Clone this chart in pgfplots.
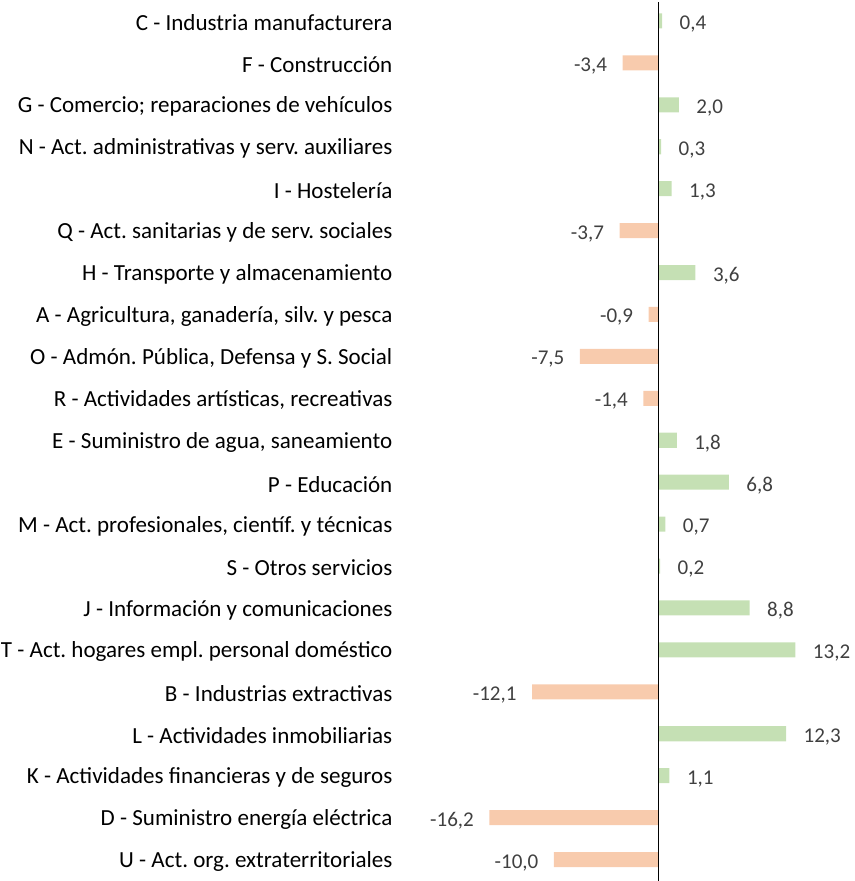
\documentclass[border=0pt]{standalone}
\usepackage{pgfplots}
\pgfplotsset{compat=1.18}
\usepackage{fontspec}
\setmainfont{Carlito}
\frenchspacing
\definecolor{barpos}{HTML}{C5E0B4}
\definecolor{barneg}{HTML}{F8CBAD}
\definecolor{lbl}{HTML}{404040}
\begin{document}
\begin{tikzpicture}
\begin{axis}[
    xbar,
    scale only axis,
    width=452pt,
    height=879pt,
    xmin=-25.0, xmax=18.5,
    ymin=-0.5, ymax=20.5,
    y dir=reverse,
    bar width=15pt,
    bar shift=0pt,
    axis line style={draw=none},
    major tick style={draw=none},
    xtick=\empty,
    ytick={0,...,20},
    yticklabels={
        C - Industria manufacturera,
        F - Construcción,
        G - Comercio; reparaciones de vehículos,
        N - Act. administrativas y serv. auxiliares,
        I - Hostelería,
        Q - Act. sanitarias y de serv. sociales,
        H - Transporte y almacenamiento,
        {A - Agricultura, ganadería, silv. y pesca},
        {O - Admón. Pública, Defensa y S. Social\ },
        {R - Actividades artísticas, recreativas},
        {E - Suministro de agua, saneamiento},
        P - Educación,
        {M - Act. profesionales, científ. y técnicas},
        S - Otros servicios,
        J - Información y comunicaciones,
        T - Act. hogares empl. personal doméstico,
        B - Industrias extractivas,
        L - Actividades inmobiliarias,
        K - Actividades financieras y de seguros,
        D - Suministro energía eléctrica,
        U - Act. org. extraterritoriales},
    yticklabel style={font=\fontsize{23}{27}\selectfont, text=black, inner sep=1pt, yshift=-2pt},
    nodes near coords,
    nodes near coords style={font=\fontsize{21}{25}\selectfont, text=lbl,
        /pgf/number format/fixed,
        /pgf/number format/fixed zerofill,
        /pgf/number format/precision=1,
        /pgf/number format/use comma,
        /pgf/number format/assume math mode=true},
    clip=false,
]
\addplot[draw=none, fill=barpos,
    nodes near coords style={anchor=west, xshift=14pt, yshift=-3pt}]
    coordinates {(0.4,0) (2.0,2) (0.3,3) (1.3,4) (3.6,6) (1.8,10) (6.8,11)
        (0.7,12) (0.2,13) (8.8,14) (13.2,15) (12.3,17) (1.1,18)};
\addplot[draw=none, fill=barneg,
    nodes near coords style={anchor=east, xshift=-12pt, yshift=-3pt}]
    coordinates {(-3.4,1) (-3.7,5) (-0.9,7) (-7.5,8) (-1.4,9) (-12.1,16)
        (-16.2,19) (-10.0,20)};
\draw[black, line width=1pt] (axis cs:0,-0.45) -- (axis cs:0,20.5);
\end{axis}
\end{tikzpicture}
\end{document}
